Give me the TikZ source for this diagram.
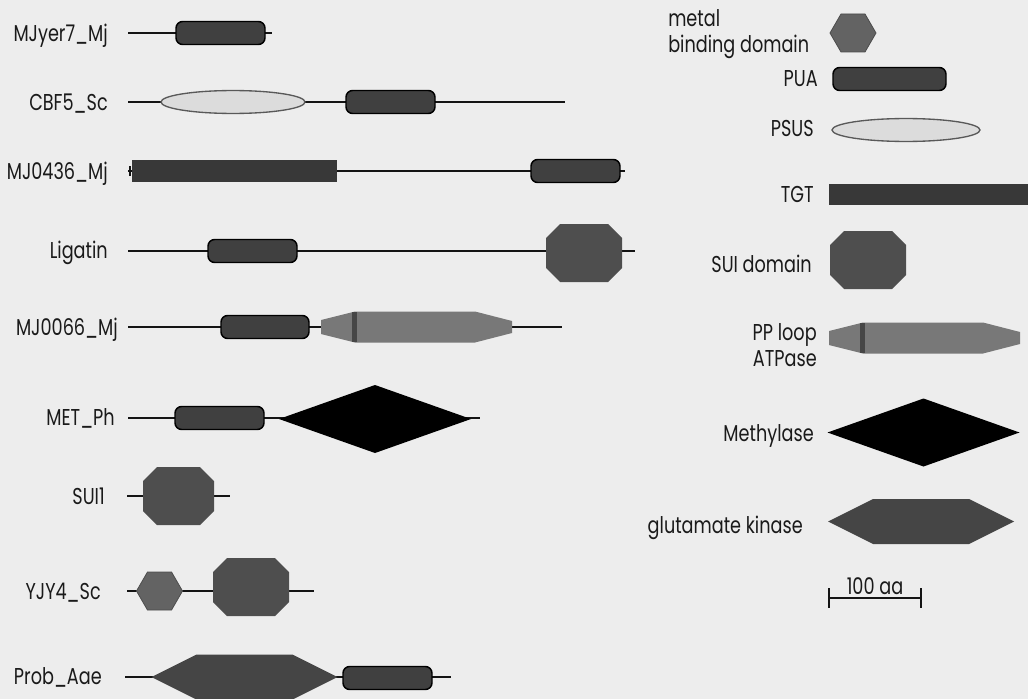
\documentclass[tikz,border=0pt]{standalone}
\usepackage{fontspec}
\setmainfont{Poppins}[FakeStretch=0.77]
\definecolor{bg}{HTML}{EDEDED}
\definecolor{puafill}{HTML}{404040}
\definecolor{psusfill}{HTML}{DCDCDC}
\definecolor{tgtfill}{HTML}{383838}
\definecolor{octfill}{HTML}{4E4E4E}
\definecolor{hexfill}{HTML}{636363}
\definecolor{ppfill}{HTML}{787878}
\definecolor{ppstripe}{HTML}{464646}
\definecolor{gkfill}{HTML}{454545}
\definecolor{txt}{HTML}{1A1A1A}
\tikzset{
  lbl/.style={font=\fontsize{17.2}{19}\selectfont, inner sep=0pt, text=txt},
  backbone/.style={line width=1.1pt, draw=black!92},
  pua/.pic={\draw[fill=puafill, draw=black, line width=1.1pt, rounded corners=5pt]
      (-#1/2,-11.5) rectangle (#1/2,11.5);},
  psus/.pic={\draw[fill=psusfill, draw=black!65, line width=1pt]
      (0,0) ellipse [x radius=#1*0.75pt, y radius=8.6pt];},
  oct/.pic={\fill[octfill] (-#1,-15) -- (-#1+14,-29) -- (#1-14,-29) -- (#1,-15)
      -- (#1,15) -- (#1-14,29) -- (-#1+14,29) -- (-#1,15) -- cycle;},
  hexa/.pic={\draw[fill=hexfill, draw=black!70, line width=0.6pt]
      (-23,0) -- (-12,-19) -- (12,-19) -- (23,0) -- (12,19) -- (-12,19) -- cycle;},
  pploop/.pic={\fill[ppfill] (0,-7) -- (34,-15.5) -- (154,-15.5) -- (191,-6)
      -- (191,6) -- (154,15.5) -- (34,15.5) -- (0,7) -- cycle;
      \fill[ppstripe] (31,-14.8) rectangle (36,14.8);},
  methyl/.pic={\fill[black] (-96,0) -- (0,-34) -- (96,0) -- (0,34) -- cycle;},
  gk/.pic={\fill[gkfill] (-93,0) -- (-48,-22.5) -- (48,-22.5) -- (93,0)
      -- (48,22.5) -- (-48,22.5) -- cycle;},
}
\begin{document}
\begin{tikzpicture}[x=0.75pt,y=-0.75pt]
\fill[bg] (0,0) rectangle (1028,699);
\useasboundingbox (0,0) rectangle (1028,699);

% ---------- backbones ----------
\coordinate (r1s) at (128,33);  \coordinate (r1e) at (272,33);
\coordinate (r2s) at (128,102); \coordinate (r2e) at (565,102);
\coordinate (r3s) at (128,171); \coordinate (r3e) at (625,171);
\coordinate (r4s) at (128,251); \coordinate (r4e) at (635,251);
\coordinate (r5s) at (128,327); \coordinate (r5e) at (562,327);
\coordinate (r6s) at (128,418); \coordinate (r6e) at (480,418);
\coordinate (r7s) at (127,496); \coordinate (r7e) at (230,496);
\coordinate (r8s) at (127,591); \coordinate (r8e) at (314,591);
\coordinate (r9s) at (125,677); \coordinate (r9e) at (451,677);
\foreach \r in {1,...,9} {\draw[backbone] (r\r s) -- (r\r e);}
\draw[backbone] (130,166) -- (130,176);

% ---------- labels left ----------
\node[lbl, anchor=base east] (l1) at (108,42) {MJyer7\_Mj};
\node[lbl, anchor=base east] (l2) at (108,110) {CBF5\_Sc};
\node[lbl, anchor=base east] (l3) at (108,179) {MJ0436\_Mj};
\node[lbl, anchor=base east] (l4) at (108,258) {Ligatin};
\node[lbl, anchor=base east] (l5) at (118,335) {MJ0066\_Mj};
\node[lbl, anchor=base east] (l6) at (115,425) {MET\_Ph};
\node[lbl, anchor=base east] (l7) at (105,504) {SUI1};
\node[lbl, anchor=base east] (l8) at (101,599) {YJY4\_Sc};
\node[lbl, anchor=base east] (l9) at (102,684) {Prob\_Aae};

% ---------- domains left ----------
\pic at (220.5,33) {pua=89};
\pic at (233,102) {psus=72};
\pic at (390.5,102) {pua=89};
\fill[tgtfill] (132,160) rectangle (337,182);
\pic at (575.5,171) {pua=89};
\pic at (252.5,251) {pua=89};
\pic at (584,253) {oct=38};
\pic at (265,327) {pua=88};
\pic at (321,327) {pploop};
\pic at (219.5,418) {pua=89};
\pic at (375,419) {methyl};
\pic at (178.5,496) {oct=35.5};
\pic at (159.5,591) {hexa};
\pic at (251,587) {oct=38};
\pic at (244.5,677) {gk};
\pic at (387.5,678) {pua=89};

% ---------- legend ----------
\node[lbl, anchor=west, align=left] (m1) at (668,34) {metal\\binding domain};
\pic at (853,33) {hexa};
\node[lbl, anchor=base east] (m2) at (818,87) {PUA};
\pic at (889.5,79) {pua=113};
\node[lbl, anchor=base east] (m3) at (814,137) {PSUS};
\pic at (906,130) {psus=74};
\node[lbl, anchor=base east] (m4) at (814,202) {TGT};
\fill[tgtfill] (829,184) rectangle (1030,205);
\node[lbl, anchor=base east] (m5) at (812,272) {SUI domain};
\pic at (868,260) {oct=38};
\node[lbl, anchor=east, align=right] (m6) at (817,345) {PP loop\\ATPase};
\pic at (829,338) {pploop};
\node[lbl, anchor=base east] (m7) at (814,441) {Methylase};
\pic at (923.5,432.5) {methyl};
\node[lbl, anchor=base east] (m8) at (803,533) {glutamate kinase};
\pic at (921,521.5) {gk};

% scale bar
\coordinate (sb1) at (829,598); \coordinate (sb2) at (921,598);
\draw[backbone] (sb1) -- (sb2);
\draw[backbone] (829,588) -- (829,608);
\draw[backbone] (921,588) -- (921,608);
\node[lbl, anchor=base] (sbt) at (875,594) {100 aa};
\end{tikzpicture}
\end{document}
